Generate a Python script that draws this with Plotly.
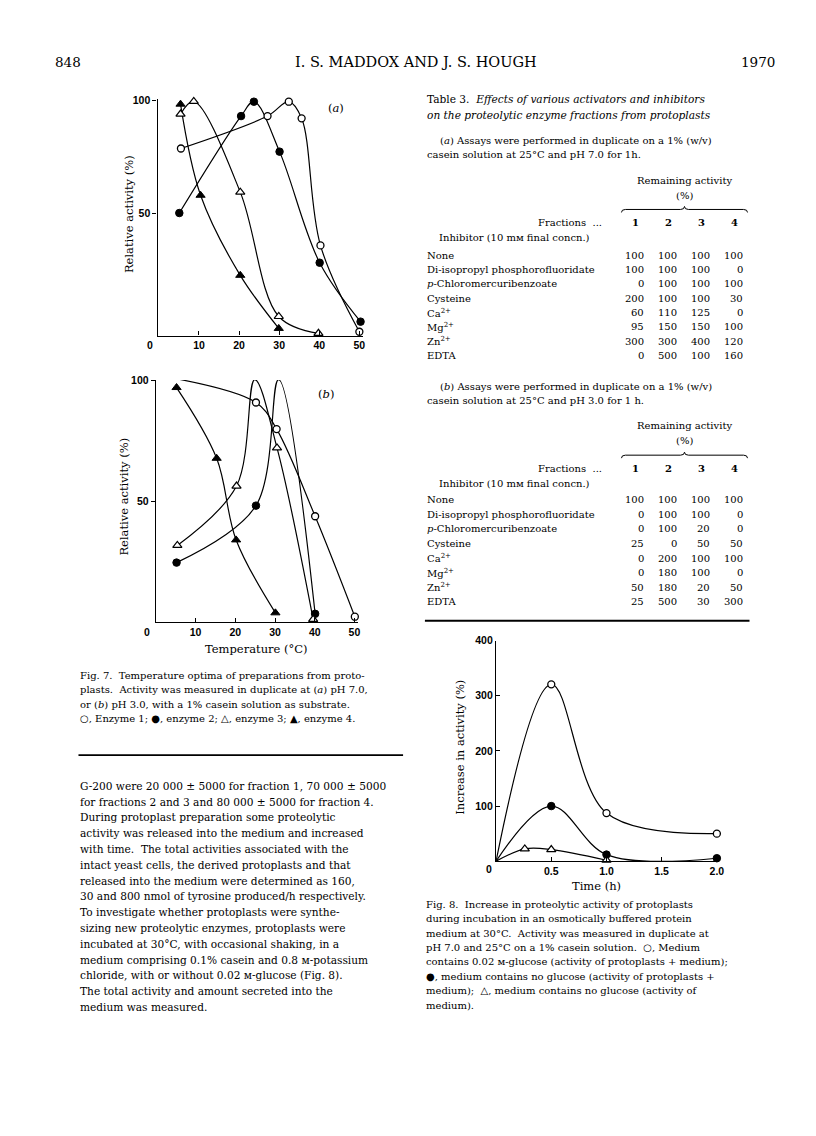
import plotly.graph_objects as go

W, H = 816, 1136
SERIF = "DejaVu Serif"
SANS = "Liberation Sans"

# ---------------- Fig. 7 data ----------------
# (a) pH 7.0
a_e1_x = [5.5, 27.1, 32.4, 35.6, 40.3, 50.0]
a_e1_y = [78.8, 93.2, 99.6, 92.2, 35.7, -2.7]
a_e2_x = [5.1, 20.5, 23.7, 30.1, 40.1, 50.3]
a_e2_y = [50.1, 93.2, 99.6, 77.4, 28.0, 1.8]
a_e3_x = [5.4, 8.7, 20.3, 29.9, 39.8]
a_e3_y = [94.1, 99.7, 59.4, 4.1, -3.4]
a_e4_x = [5.4, 10.4, 20.3, 29.9]
a_e4_y = [98.5, 58.0, 22.4, -1.2]
# (b) pH 3.0
b_e1_x = [5.0, 25.2, 30.4, 40.1, 50.1]
b_e1_y = [100.7, 90.8, 79.8, 43.7, 2.1]
b_e2_x = [5.2, 25.2, 30.9, 40.1]
b_e2_y = [24.5, 48.1, 100.3, 3.3]
b_e3_x = [5.4, 20.3, 24.9, 30.5, 39.6]
b_e3_y = [31.6, 56.2, 100.3, 72.0, 1.0]
b_e4_x = [5.2, 15.3, 20.2, 30.1]
b_e4_y = [97.0, 67.7, 33.9, 3.7]

temp_ticks = [10, 20, 30, 40, 50]
rel_ticks = [50, 100]

# ---------------- Fig. 8 data ----------------
f8_glc_x = [0, 0.5, 1.0, 2.0]
f8_glc_y = [0, 320.8, 87.3, 50.0]
f8_noglc_x = [0, 0.5, 1.0, 2.0]
f8_noglc_y = [0, 100.0, 12.0, 5.4]
f8_med_x = [0, 0.26, 0.5, 1.0]
f8_med_y = [0, 22.3, 21.1, 1.8]
time_ticks = [0.5, 1.0, 1.5, 2.0]
time_ticktext = ["0.5", "1.0", "1.5", "2.0"]
inc_ticks = [100, 200, 300, 400]

# ---------------- Table 3 data ----------------
inhibitors = ["None", "Di-isopropyl phosphorofluoridate", "<i>p</i>-Chloromercuribenzoate",
              "Cysteine", "Ca<sup>2+</sup>", "Mg<sup>2+</sup>", "Zn<sup>2+</sup>", "EDTA"]
fractions = ["1", "2", "3", "4"]
a_frac1 = [100, 100, 0, 200, 60, 95, 300, 0]
a_frac2 = [100, 100, 100, 100, 110, 150, 300, 500]
a_frac3 = [100, 100, 100, 100, 125, 150, 400, 100]
a_frac4 = [100, 0, 100, 30, 0, 100, 120, 160]
b_frac1 = [100, 0, 0, 25, 0, 0, 50, 25]
b_frac2 = [100, 100, 100, 0, 200, 180, 180, 500]
b_frac3 = [100, 100, 20, 50, 100, 100, 20, 30]
b_frac4 = [100, 0, 0, 50, 100, 0, 50, 300]

# ---------------- text ----------------
SM = "\u1d0d"  # small-capital M
header_title = "I. S. MADDOX AND J. S. HOUGH"
body_lines = [
    "G-200 were 20 000 \u00b1 5000 for fraction 1, 70 000 \u00b1 5000",
    "for fractions 2 and 3 and 80 000 \u00b1 5000 for fraction 4.",
    "During protoplast preparation some proteolytic",
    "activity was released into the medium and increased",
    "with time.  The total activities associated with the",
    "intact yeast cells, the derived protoplasts and that",
    "released into the medium were determined as 160,",
    "30 and 800 nmol of tyrosine produced/h respectively.",
    "To investigate whether protoplasts were synthe-",
    "sizing new proteolytic enzymes, protoplasts were",
    "incubated at 30\u00b0C, with occasional shaking, in a",
    "medium comprising 0.1% casein and 0.8 " + SM + "-potassium",
    "chloride, with or without 0.02 " + SM + "-glucose (Fig. 8).",
    "The total activity and amount secreted into the",
    "medium was measured.",
]
fig7_caption = [
    "Fig. 7.  Temperature optima of preparations from proto-",
    "plasts.  Activity was measured in duplicate at (<i>a</i>) pH 7.0,",
    "or (<i>b</i>) pH 3.0, with a 1% casein solution as substrate.",
    "\u25cb, Enzyme 1; \u25cf, enzyme 2; \u25b3, enzyme 3; \u25b2, enzyme 4.",
]
fig8_caption = [
    "Fig. 8.  Increase in proteolytic activity of protoplasts",
    "during incubation in an osmotically buffered protein",
    "medium at 30\u00b0C.  Activity was measured in duplicate at",
    "pH 7.0 and 25\u00b0C on a 1% casein solution.  \u25cb, Medium",
    "contains 0.02 " + SM + "-glucose (activity of protoplasts + medium);",
    "\u25cf, medium contains no glucose (activity of protoplasts +",
    "medium);  \u25b3, medium contains no glucose (activity of",
    "medium).",
]


def X(px):
    return px / W


def Y(py):
    return 1 - py / H


fig = go.Figure()

open_c = dict(symbol="circle", size=7, color="white", line=dict(color="black", width=1.3))
fill_c = dict(symbol="circle", size=7.5, color="black", line=dict(color="black", width=1))
open_t = dict(symbol="triangle-up", size=8, color="white", line=dict(color="black", width=1.2))
fill_t = dict(symbol="triangle-up", size=8, color="black", line=dict(color="black", width=1))
ln = dict(color="black", width=1.2, shape="spline", smoothing=1.0)

for xa, ya, series in [
    ("x", "y", [(a_e1_x, a_e1_y, open_c, "Enzyme 1"), (a_e2_x, a_e2_y, fill_c, "Enzyme 2"),
                (a_e3_x, a_e3_y, open_t, "Enzyme 3"), (a_e4_x, a_e4_y, fill_t, "Enzyme 4")]),
    ("x2", "y2", [(b_e1_x, b_e1_y, open_c, "Enzyme 1"), (b_e2_x, b_e2_y, fill_c, "Enzyme 2"),
                  (b_e3_x, b_e3_y, open_t, "Enzyme 3"), (b_e4_x, b_e4_y, fill_t, "Enzyme 4")]),
    ("x3", "y3", [(f8_glc_x, f8_glc_y, open_c, "glucose"), (f8_noglc_x, f8_noglc_y, fill_c, "no glucose"),
                  (f8_med_x, f8_med_y, open_t, "medium")]),
]:
    for xs, ys, mk, name in series:
        fig.add_trace(go.Scatter(x=xs, y=ys, mode="lines", line=ln, xaxis=xa, yaxis=ya,
                                 showlegend=False, hoverinfo="skip", cliponaxis=False))
    for xs, ys, mk, name in series:
        mxs, mys = xs, ys
        if xa == "x3":
            mxs, mys = xs[1:], ys[1:]
        fig.add_trace(go.Scatter(x=mxs, y=mys, mode="markers", marker=mk, xaxis=xa, yaxis=ya,
                                 name=name, showlegend=False, cliponaxis=False))

tickfont = dict(family=SANS, size=10.5, color="black", weight="bold")
axis_common = dict(showgrid=False, zeroline=False, showline=True, linecolor="black", linewidth=1.4,
                   ticklen=4, tickwidth=1.3, tickcolor="black", tickfont=tickfont)

fig.update_layout(
    width=W, height=H, margin=dict(l=0, r=0, t=0, b=0),
    paper_bgcolor="white", plot_bgcolor="white", showlegend=False,
    xaxis=dict(domain=[X(150.7), X(358)], range=[-0.32, 51.0], anchor="y",
               tickvals=temp_ticks, ticks="inside", **axis_common),
    yaxis=dict(domain=[Y(323.3), Y(85)], range=[-4.4, 101.0], anchor="x",
               tickvals=rel_ticks, ticks="outside", **axis_common),
    xaxis2=dict(domain=[X(149), X(353)], range=[0, 51.0], anchor="y2",
                tickvals=temp_ticks, ticks="inside", **axis_common),
    yaxis2=dict(domain=[Y(611), Y(368)], range=[0, 100.1], anchor="x2",
                tickvals=rel_ticks, ticks="outside", **axis_common),
    xaxis3=dict(domain=[X(491.7), X(716)], range=[0, 2.017], anchor="y3",
                tickvals=time_ticks, ticktext=time_ticktext, ticks="inside", **axis_common),
    yaxis3=dict(domain=[Y(851.7), Y(630)], range=[0, 400], anchor="x3",
                tickvals=inc_ticks, ticks="inside", **axis_common),
)

ann = []


def txt(x, y, text, size=10.5, anchor="left", family=SERIF, angle=0, color="black"):
    ann.append(dict(x=X(x), y=Y(y), xref="paper", yref="paper", text=text, showarrow=False,
                    xanchor=anchor, yanchor="middle", textangle=angle,
                    font=dict(family=family, size=size, color=color)))


# header
txt(45, 48, "848", size=13.5)
txt(411, 48, header_title, size=14.5, anchor="center")
txt(775, 48, "1970", size=13.5, anchor="right")

# Fig 7 labels
txt(330, 94, "(<i>a</i>)", size=11.5, anchor="center")
txt(320, 382, "(<i>b</i>)", size=11.5, anchor="center")
txt(122, 201, "Relative activity (%)", size=11.5, anchor="center", angle=-90)
txt(117, 485, "Relative activity (%)", size=11.5, anchor="center", angle=-90)
txt(143, 333, "<b>0</b>", size=10.5, family=SANS, anchor="center")
txt(140, 621, "<b>0</b>", size=10.5, family=SANS, anchor="center")
txt(250, 638, "Temperature (\u00b0C)", size=11.5, anchor="center")

# Fig 8 labels
txt(485, 860, "<b>0</b>", size=10.5, family=SANS, anchor="center")
txt(455, 737, "Increase in activity (%)", size=11.5, anchor="center", angle=-90)
txt(593, 877, "Time (h)", size=11.5, anchor="center")

# captions and body
for i, line in enumerate(fig7_caption):
    txt(71, 665 + 14.5 * i, line, size=10)
for i, line in enumerate(body_lines):
    txt(71, 775.8 + 15.9 * i, line, size=10.6)
for i, line in enumerate(fig8_caption):
    txt(419, 895 + 14.5 * i, line, size=10)

# Table 3
txt(420, 85, "Table 3.  <i>Effects of various activators and inhibitors</i>", size=10.6)
txt(420, 102, "<i>on the proteolytic enzyme fractions from protoplasts</i>", size=10.6)

col_right = [642.3, 675.7, 709, 742.3]
col_center = [632.3, 665.7, 699, 732.3]
shapes = []


def brace(x0, x1, y):
    xc = (x0 + x1) / 2
    pts = [
        f"M {X(x0)},{Y(y + 3)}",
        f"Q {X(x0)},{Y(y)} {X(x0 + 4)},{Y(y)}",
        f"L {X(xc - 4)},{Y(y)}",
        f"Q {X(xc)},{Y(y)} {X(xc)},{Y(y - 3)}",
        f"Q {X(xc)},{Y(y)} {X(xc + 4)},{Y(y)}",
        f"L {X(x1 - 4)},{Y(y)}",
        f"Q {X(x1)},{Y(y)} {X(x1)},{Y(y + 3)}",
    ]
    shapes.append(dict(type="path", xref="paper", yref="paper", path=" ".join(pts),
                       line=dict(color="black", width=1)))


def table(top, line1, line2, cols, row_y0, row_dy):
    txt(433, top, line1, size=10)
    txt(420, top + 14, line2, size=10)
    txt(681.7, top + 39.5, "Remaining activity", size=10, anchor="center")
    txt(681.7, top + 54.5, "(%)", size=10, anchor="center")
    brace(618, 745, top + 69)
    txt(600, top + 82, "Fractions  ...", size=10, anchor="right")
    for c, f in zip(col_center, fractions):
        txt(c, top + 82, "<b>" + f + "</b>", size=10, anchor="center")
    txt(431.7, top + 97.5, "Inhibitor (10 m" + SM + " final concn.)", size=10)
    for i, name in enumerate(inhibitors):
        yy = row_y0 + row_dy * i
        txt(420, yy, name, size=10)
        for cx, vals in zip(col_right, cols):
            txt(cx, yy, str(vals[i]), size=10, anchor="right")


table(127.5, "(<i>a</i>) Assays were performed in duplicate on a 1% (w/v)",
      "casein solution at 25\u00b0C and pH 7.0 for 1h.",
      [a_frac1, a_frac2, a_frac3, a_frac4], 242.5, 14.4)
table(374.5, "(<i>b</i>) Assays were performed in duplicate on a 1% (w/v)",
      "casein solution at 25\u00b0C and pH 3.0 for 1 h.",
      [b_frac1, b_frac2, b_frac3, b_frac4], 488.3, 14.67)

# rules
shapes.append(dict(type="line", xref="paper", yref="paper", x0=X(420), x1=X(747), y0=Y(610), y1=Y(610),
                   line=dict(color="black", width=2)))
shapes.append(dict(type="line", xref="paper", yref="paper", x0=X(71), x1=X(398), y0=Y(745), y1=Y(745),
                   line=dict(color="black", width=1.8)))

fig.update_layout(annotations=ann, shapes=shapes)
fig.write_html("out.html")
